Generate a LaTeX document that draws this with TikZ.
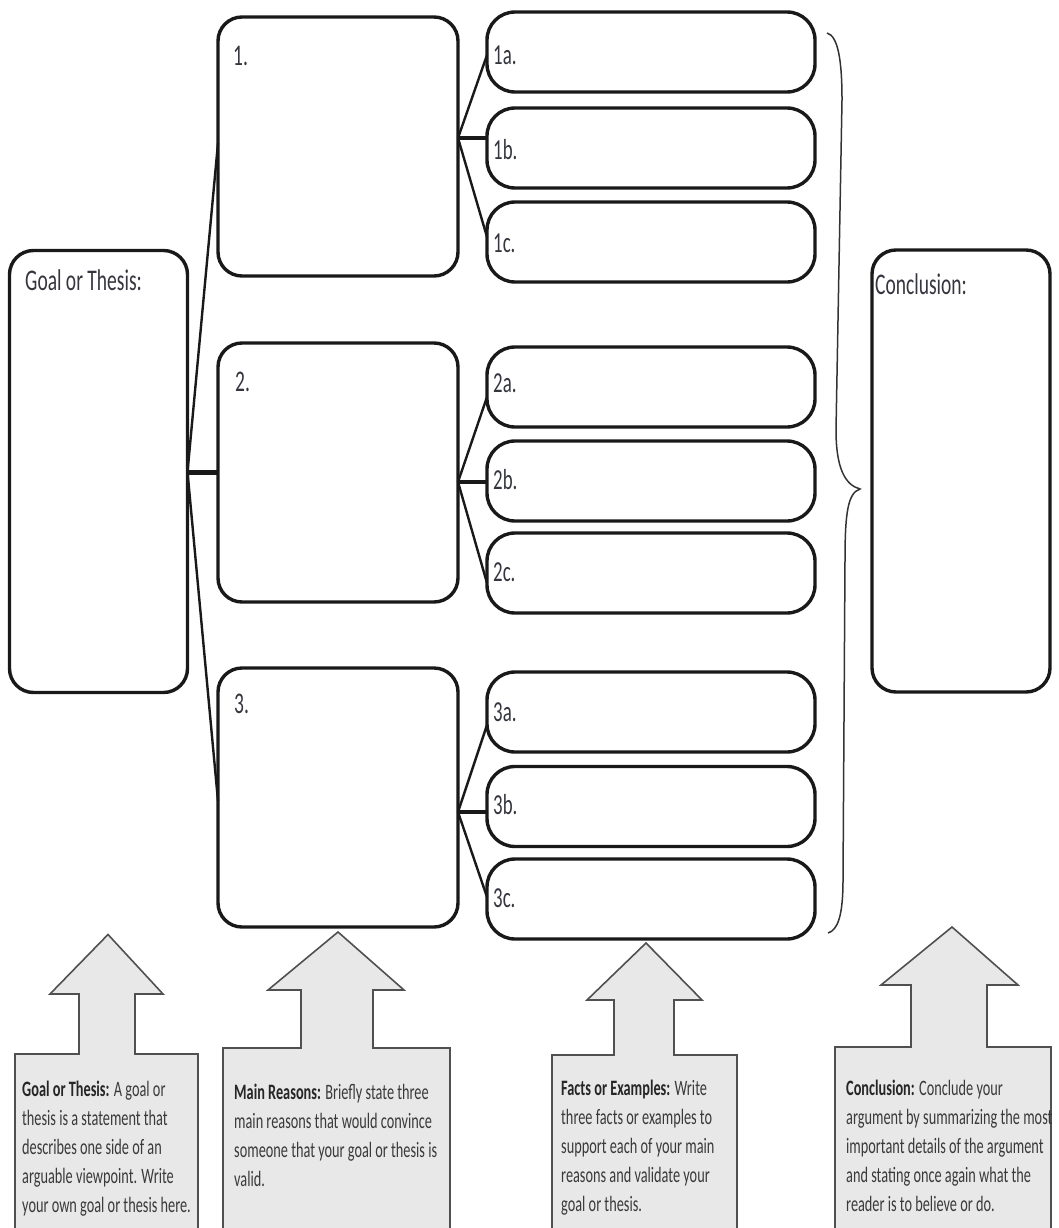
\documentclass[tikz,border=0pt]{standalone}
\usepackage{fontspec}
\setmainfont{Carlito}[FakeStretch=0.65]
\definecolor{labelc}{HTML}{35353F}
\definecolor{calloutfill}{HTML}{E8E8E8}
\definecolor{calloutline}{HTML}{505050}
\definecolor{calloutText}{HTML}{3A3A3A}
\begin{document}
\begin{tikzpicture}[x=1pt,y=-1pt,
  bigbox/.style={draw=black!90, line width=3.4pt, rounded corners=24pt, minimum width=240, minimum height=259, inner sep=0pt, outer sep=0pt},
  sidebox/.style={draw=black!90, line width=3.4pt, rounded corners=24pt, minimum width=178, minimum height=442, inner sep=0pt, outer sep=0pt},
  subbox/.style={draw=black!90, line width=3.4pt, rounded corners=28pt, minimum width=328, minimum height=80, inner sep=0pt, outer sep=0pt},
  conn/.style={draw=black!90, line width=2.4pt},
  thickconn/.style={draw=black!90, line width=5pt},
  numlabel/.style={anchor=west, inner sep=0pt, text=labelc, font=\fontsize{30}{34}\selectfont},
  sublabel/.style={anchor=west, inner sep=0pt, text=labelc, font=\fontsize{29}{32}\selectfont},
  titlelabel/.style={anchor=base west, inner sep=0pt, text=labelc, font=\fontsize{30}{35}\selectfont},
  callout/.style={fill=calloutfill, draw=calloutline, line width=1.6pt, line join=miter},
  ctext/.style={anchor=north west, inner sep=0pt, align=left, text=calloutText, font=\fontsize{22}{29}\selectfont},
  brace/.style={draw=black!80, line width=1.5pt}
]
\useasboundingbox (0,0) rectangle (1059,1228);
\clip (0,0) rectangle (1059,1228);

% side boxes
\node[sidebox] (goal) at (98.5,471.5) {};
\node[sidebox] (concl) at (961,471) {};
\node[titlelabel] (goalt) at (25,290) {Goal or Thesis:};
\node[titlelabel] (conclt) at (875,294) {Conclusion:};

% main reason boxes
\node[bigbox] (b1) at (338,146.5) {};
\node[bigbox] (b2) at (338,472.5) {};
\node[bigbox] (b3) at (338,797.5) {};
\node[numlabel] (t1) at (233,56) {1.};
\node[numlabel] (t2) at (235,382) {2.};
\node[numlabel] (t3) at (234,704) {3.};

% sub boxes
\node[subbox] (s1a) at (651,52) {};
\node[subbox] (s1b) at (651,148) {};
\node[subbox] (s1c) at (651,242) {};
\node[subbox] (s2a) at (651,387) {};
\node[subbox] (s2b) at (651,481) {};
\node[subbox] (s2c) at (651,573) {};
\node[subbox] (s3a) at (651,712) {};
\node[subbox] (s3b) at (651,806.5) {};
\node[subbox] (s3c) at (651,899) {};
\node[sublabel] (l1a) at (493,55) {1a.};
\node[sublabel] (l1b) at (493,150) {1b.};
\node[sublabel] (l1c) at (493,243) {1c.};
\node[sublabel] (l2a) at (493,383) {2a.};
\node[sublabel] (l2b) at (493,480) {2b.};
\node[sublabel] (l2c) at (493,572) {2c.};
\node[sublabel] (l3a) at (493,712) {3a.};
\node[sublabel] (l3b) at (493,805) {3b.};
\node[sublabel] (l3c) at (493,898) {3c.};

% connectors from goal
\coordinate (jg) at (goal.east |- 0,472);
\draw[conn] (jg) -- (b1.west |- 0,143);
\draw[conn] (jg) -- (b3.west |- 0,801);
\draw[thickconn] (jg) -- (b2.west |- 0,472);

% connectors group 1
\coordinate (j1) at (b1.east |- 0,138);
\draw[conn] (j1) -- (s1a.west |- 0,55);
\draw[conn] (j1) -- (s1c.west |- 0,237);
\draw[thickconn, line width=4pt] (j1) -- (s1b.west |- 0,138);
% group 2
\coordinate (j2) at (b2.east |- 0,482);
\draw[conn] (j2) -- (s2a.west |- 0,397);
\draw[conn] (j2) -- (s2c.west |- 0,583);
\draw[thickconn, line width=4pt] (j2) -- (s2b.west |- 0,482);
% group 3
\coordinate (j3) at (b3.east |- 0,812);
\draw[conn] (j3) -- (s3a.west |- 0,725);
\draw[conn] (j3) -- (s3c.west |- 0,897);
\draw[thickconn, line width=4pt] (j3) -- (s3b.west |- 0,812);

% brace
\draw[brace] (827,33) .. controls (838,36) and (842,60) .. (842,100)
  -- (836,430) .. controls (836,468) and (845,485) .. (860,489)
  .. controls (848,493) and (845,512) .. (845,560)
  -- (843,880) .. controls (843,915) and (838,930) .. (828,933);

% callout arrows
\path[callout] (15,1240) -- (15,1054) -- (79,1054) -- (79,994) -- (50,994) -- (108,934.5)
  -- (163,994) -- (135,994) -- (135,1054) -- (198,1054) -- (198,1240);
\path[callout] (223,1240) -- (223,1048) -- (301,1048) -- (301,990) -- (268,990) -- (338,932)
  -- (404,990) -- (373,990) -- (373,1048) -- (450,1048) -- (450,1240);
\path[callout] (552,1240) -- (552,1055) -- (614,1055) -- (614,1000) -- (587,1000) -- (646,943)
  -- (702,1000) -- (674,1000) -- (674,1055) -- (737,1055) -- (737,1240);
\path[callout] (835,1240) -- (835,1047) -- (911,1047) -- (911,985) -- (881,985) -- (952,927)
  -- (1018,985) -- (987,985) -- (987,1047) -- (1051,1047) -- (1051,1240);

\node[ctext] (c1) at (22,1081) {\textbf{\color{black!85}Goal or Thesis:} A goal or\\thesis is a statement that\\describes one side of an\\arguable viewpoint. Write\\your own goal or thesis here.};
\node[ctext] (c2) at (234,1084) {\textbf{\color{black!85}Main Reasons:} Briefly state three\\main reasons that would convince\\someone that your goal or thesis is\\valid.};
\node[ctext] (c3) at (561,1080) {\textbf{\color{black!85}Facts or Examples:} Write\\three facts or examples to\\support each of your main\\reasons and validate your\\goal or thesis.};
\node[ctext] (c4) at (846,1080) {\textbf{\color{black!85}Conclusion:} Conclude your\\argument by summarizing the most\\important details of the argument\\and stating once again what the\\reader is to believe or do.};
\end{tikzpicture}
\end{document}
